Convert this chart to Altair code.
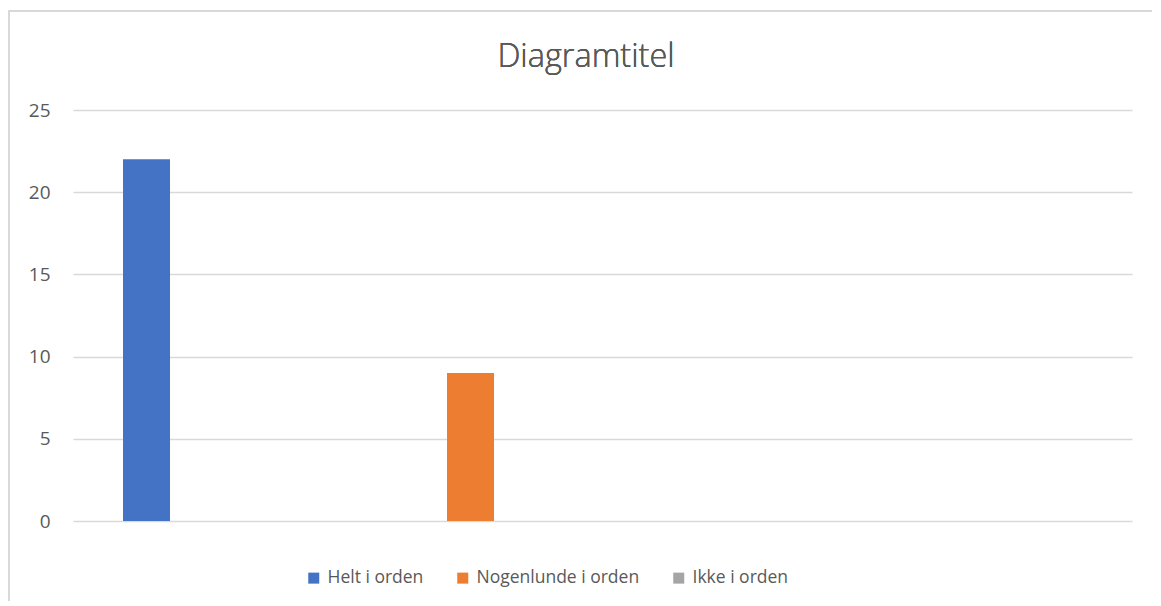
import altair as alt
import pandas as pd

title_text = "Diagramtitel"
categories = ["Helt i orden", "Nogenlunde i orden", "Ikke i orden"]
values = [22, 9, 0]
colors = ["#4472C4", "#ED7D31", "#A5A5A5"]

df = pd.DataFrame({"kategori": categories, "antal": values})

FONT = "Open Sans"
W, H = 1059, 411

bars = alt.Chart(df).transform_calculate(
    pos="indexof(" + str(categories) + ", datum.kategori)"
).mark_bar(size=47).encode(
    x=alt.X("pos:Q", axis=None,
            scale=alt.Scale(domain=[-0.2269, 3.0417], nice=False, zero=False, padding=0)),
    y=alt.Y("antal:Q", title=None,
            scale=alt.Scale(domain=[0, 25], nice=False),
            axis=alt.Axis(values=[0, 5, 10, 15, 20, 25], grid=True, gridColor="#d9d9d9",
                          gridWidth=1.3, domain=False, ticks=False, labelPadding=23,
                          labelFont=FONT, labelFontSize=19, labelColor="#595959")),
    color=alt.Color("kategori:N", sort=categories,
                    scale=alt.Scale(domain=categories, range=colors),
                    legend=alt.Legend(title=None, orient="none", direction="horizontal",
                                      legendX=232, legendY=459, symbolType="square",
                                      symbolSize=121, symbolStrokeWidth=0, labelLimit=400,
                                      labelFont=FONT, labelFontSize=17.5, labelColor="#595959",
                                      labelOffset=5, columnPadding=30)),
)

border = alt.Chart(df).mark_rect(fill=None, stroke="#d9d9d9", strokeWidth=1.5, clip=False).encode(
    x=alt.value(-64), x2=alt.value(1087), y=alt.value(-99), y2=alt.value(520)
)

title = alt.Chart(df).mark_text(
    font=FONT, fontSize=32.5, fontWeight=300, color="#595959", align="center", baseline="alphabetic"
).encode(
    text=alt.value(title_text), x=alt.value(513), y=alt.value(-43)
)

chart = alt.layer(border, bars, title).properties(
    width=W, height=H,
    autosize=alt.AutoSizeParams(type="none"),
    padding={"left": 65, "top": 102, "right": 20, "bottom": 80},
).configure_view(stroke=None)

chart.save("out.html", embed_options={"renderer": "svg", "actions": False})
